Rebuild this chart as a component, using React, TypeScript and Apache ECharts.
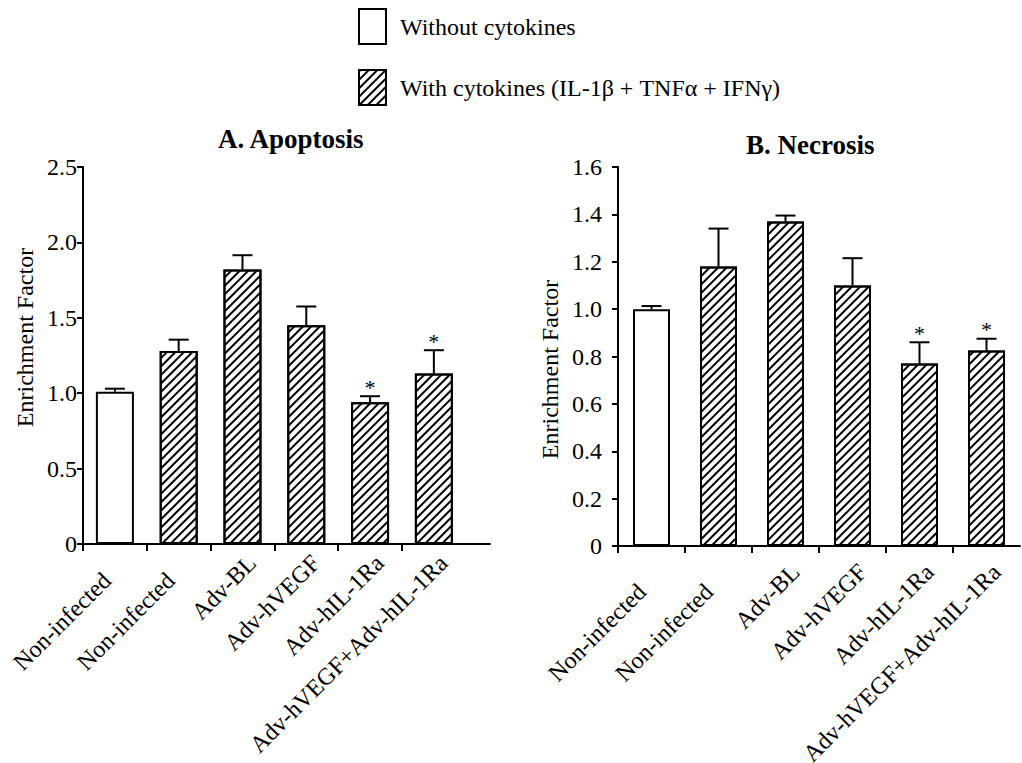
import React, { useEffect, useRef } from "react";
import * as echarts from "echarts";

// Group labels shared by both panels
const categories = [
  "Non-infected",
  "Non-infected",
  "Adv-BL",
  "Adv-hVEGF",
  "Adv-hIL-1Ra",
  "Adv-hVEGF+Adv-hIL-1Ra",
];

// A. Apoptosis — enrichment factor (mean and SEM)
const apoptosisMean = [1.01, 1.28, 1.82, 1.45, 0.94, 1.13];
const apoptosisSem = [0.02, 0.075, 0.095, 0.125, 0.04, 0.155];

// B. Necrosis — enrichment factor (mean and SEM)
const necrosisMean = [1.0, 1.18, 1.37, 1.1, 0.77, 0.825];
const necrosisSem = [0.013, 0.16, 0.025, 0.115, 0.09, 0.05];

// Significance markers (asterisks)
const apoptosisSig = [0, 0, 0, 0, 1, 1];
const necrosisSig = [0, 0, 0, 0, 1, 1];

// Which groups were treated with cytokines
const withCytokines = [false, true, true, true, true, true];

const SERIES_PLAIN = "Without cytokines";
const SERIES_HATCH = "With cytokines (IL-1β + TNFα + IFNγ)";

const FONT = "Liberation Serif";

const hatch = {
  symbol: "rect",
  symbolSize: 1,
  dashArrayX: [1, 0],
  dashArrayY: [2, 3.5],
  rotation: -Math.PI / 4,
  color: "#000",
  backgroundColor: "rgba(0,0,0,0)",
};

function barSeries(
  gridIndex: number,
  means: number[],
  barWidth: number
): any[] {
  const plain = means
    .map((m, i) => (withCytokines[i] ? null : [i + 0.5, m]))
    .filter((d) => d !== null);
  const hatched = means
    .map((m, i) => (withCytokines[i] ? [i + 0.5, m] : null))
    .filter((d) => d !== null);
  const common = {
    type: "bar",
    xAxisIndex: gridIndex,
    yAxisIndex: gridIndex,
    barWidth,
    barGap: "-100%",
  };
  return [
    {
      ...common,
      name: SERIES_PLAIN,
      data: plain,
      itemStyle: { color: "#fff", borderColor: "#000", borderWidth: 2 },
    },
    {
      ...common,
      name: SERIES_HATCH,
      data: hatched,
      itemStyle: {
        color: "#fff",
        borderColor: "#000",
        borderWidth: 2,
        decal: hatch,
      },
    },
  ];
}

function errorSeries(
  gridIndex: number,
  means: number[],
  sems: number[],
  sig: number[]
): any {
  return {
    type: "custom",
    xAxisIndex: gridIndex,
    yAxisIndex: gridIndex,
    z: 5,
    data: means.map((m, i) => [i + 0.5, m, m + sems[i], sig[i]]),
    encode: { x: 0, y: 2 },
    renderItem: (_params: any, api: any) => {
      const x = api.value(0);
      const base = api.coord([x, api.value(1)]);
      const top = api.coord([x, api.value(2)]);
      const cap = 10;
      const children: any[] = [
        {
          type: "line",
          shape: { x1: base[0], y1: base[1], x2: top[0], y2: top[1] },
          style: { stroke: "#000", lineWidth: 2 },
        },
        {
          type: "line",
          shape: { x1: top[0] - cap, y1: top[1], x2: top[0] + cap, y2: top[1] },
          style: { stroke: "#000", lineWidth: 2 },
        },
      ];
      if (api.value(3)) {
        children.push({
          type: "text",
          style: {
            text: "*",
            x: top[0],
            y: top[1] + 2,
            textAlign: "center",
            textVerticalAlign: "bottom",
            font: `22px ${FONT}`,
            fill: "#000",
          },
        });
      }
      return { type: "group", children };
    },
  };
}

// Rotated group labels sit a little right of each bar; the two
// "Non-infected" labels are pushed further down along their slant.
function xAxis(
  gridIndex: number,
  max: number,
  margin: number,
  slantPad: number
): any {
  return {
    type: "value",
    gridIndex,
    min: 0,
    max,
    splitLine: { show: false },
    axisLine: { show: true, lineStyle: { color: "#000", width: 2 } },
    axisTick: {
      show: true,
      length: 7,
      inside: false,
      customValues: [0, 1, 2, 3, 4, 5],
      lineStyle: { color: "#000", width: 2 },
    },
    axisLabel: {
      customValues: [0.65, 1.65, 2.65, 3.65, 4.65, 5.65],
      formatter: (v: number) => {
        const i = Math.floor(v);
        const name = categories[i] ?? "";
        return i < 2 ? `{p|${name}}` : `{t|${name}}`;
      },
      rotate: 45,
      margin,
      color: "#000",
      fontFamily: FONT,
      fontSize: 24,
      rich: {
        t: { color: "#000", fontFamily: FONT, fontSize: 24 },
        p: {
          color: "#000",
          fontFamily: FONT,
          fontSize: 24,
          padding: [0, slantPad, 0, 0],
        },
      },
    },
  };
}

function yAxis(
  gridIndex: number,
  max: number,
  interval: number,
  margin: number,
  nameGap: number,
  namePadding: number[]
): any {
  return {
    type: "value",
    gridIndex,
    min: 0,
    max,
    interval,
    name: "Enrichment Factor",
    nameLocation: "middle",
    nameRotate: 90,
    nameGap,
    nameTextStyle: {
      color: "#000",
      fontFamily: FONT,
      fontSize: 24,
      padding: namePadding,
    },
    splitLine: { show: false },
    axisLine: { show: true, lineStyle: { color: "#000", width: 2 } },
    axisTick: {
      show: true,
      length: 6,
      inside: false,
      lineStyle: { color: "#000", width: 2 },
    },
    axisLabel: {
      margin,
      color: "#000",
      fontFamily: FONT,
      fontSize: 24,
      formatter: (v: number) => (v === 0 ? "0" : v.toFixed(1)),
    },
  };
}

export default function App() {
  const ref = useRef<HTMLDivElement>(null);

  useEffect(() => {
    if (!ref.current) return;
    const chart = echarts.init(ref.current, null, { renderer: "svg" });
    const option: any = {
      animation: false,
      backgroundColor: "#fff",
      legend: {
        orient: "vertical",
        left: 358,
        top: 8,
        padding: 0,
        itemWidth: 27,
        itemHeight: 35,
        itemGap: 24,
        icon: "rect",
        selectedMode: false,
        data: [SERIES_PLAIN, SERIES_HATCH],
        textStyle: {
          color: "#000",
          fontFamily: FONT,
          fontSize: 24,
          padding: [0, 0, 0, 9],
        },
      },
      graphic: [
        {
          type: "text",
          left: 218,
          top: 125,
          style: {
            text: "A. Apoptosis",
            font: `bold 27px ${FONT}`,
            fill: "#000",
          },
        },
        {
          type: "text",
          left: 746,
          top: 131,
          style: {
            text: "B. Necrosis",
            font: `bold 27px ${FONT}`,
            fill: "#000",
          },
        },
      ],
      grid: [
        {
          left: 83,
          top: 167,
          width: 407,
          bottom: 219,
          outerBoundsMode: "none",
          containLabel: false,
        },
        {
          left: 618,
          top: 167,
          width: 402,
          bottom: 217,
          outerBoundsMode: "none",
          containLabel: false,
        },
      ],
      xAxis: [xAxis(0, 6.38, 15, 25), xAxis(1, 6, 22, 28)],
      yAxis: [
        yAxis(0, 2.5, 0.5, 6, 46, [0, 0, 0, 36]),
        yAxis(1, 1.6, 0.2, 16, 56, [0, 26, 0, 0]),
      ],
      series: [
        ...barSeries(0, apoptosisMean, 38),
        errorSeries(0, apoptosisMean, apoptosisSem, apoptosisSig),
        ...barSeries(1, necrosisMean, 37),
        errorSeries(1, necrosisMean, necrosisSem, necrosisSig),
      ],
    };
    chart.setOption(option);
    return () => chart.dispose();
  }, []);

  return (
    <div
      ref={ref}
      style={{ position: "fixed", left: 0, top: 0, width: 1022, height: 763 }}
    />
  );
}
